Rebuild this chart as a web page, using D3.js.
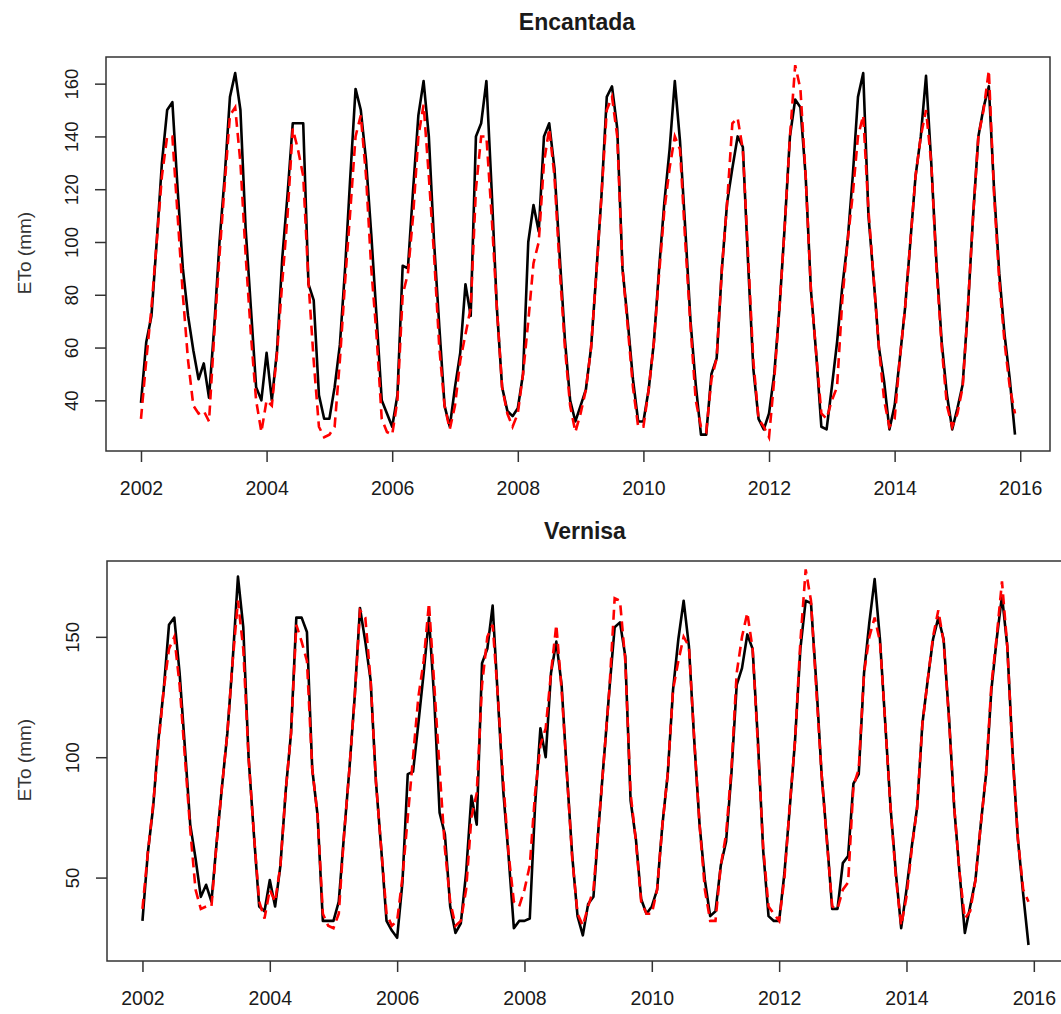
<!DOCTYPE html>
<html>
<head>
<meta charset="utf-8">
<script src="https://cdn.jsdelivr.net/npm/d3@7"></script>
<style>
  body { margin: 0; background: #fff; }
  svg { display: block; font-family: 'Liberation Sans', Arial, sans-serif; }
</style>
</head>
<body>
<svg id="chart" width="1061" height="1014"></svg>
<script>
const startYear = 2002;
const yearTicks = [2002, 2004, 2006, 2008, 2010, 2012, 2014, 2016];
const encantadaTicks = [40, 60, 80, 100, 120, 140, 160];
const vernisaTicks = [50, 100, 150];

// monthly ETo, one row per year (Jan..Dec)
const encantadaBlack = [
  39, 62, 72, 100, 130, 150, 153, 120, 90, 72, 59, 48,
  54, 41, 68, 100, 125, 155, 164, 150, 105, 75, 45, 40,
  58, 40, 59, 94, 118, 145, 145, 145, 84, 78, 42, 33,
  33, 45, 61, 90, 125, 158, 150, 131, 103, 72, 40, 35,
  30, 42, 91, 90, 120, 148, 161, 140, 100, 68, 38, 30,
  45, 58, 84, 72, 140, 145, 161, 120, 75, 45, 36, 34,
  37, 50, 100, 114, 104, 140, 145, 128, 95, 63, 40, 32,
  38, 44, 60, 88, 118, 155, 159, 143, 90, 70, 48, 32,
  32, 44, 62, 90, 115, 135, 161, 138, 105, 70, 46, 27,
  27, 50, 56, 90, 115, 128, 140, 136, 92, 52, 33, 29,
  35, 50, 75, 106, 140, 154, 151, 125, 82, 58, 30, 29,
  45, 62, 83, 100, 125, 155, 164, 110, 86, 60, 47, 29,
  38, 56, 75, 100, 125, 140, 163, 130, 92, 62, 42, 29,
  37, 46, 75, 110, 140, 151, 159, 120, 88, 65, 48, 27
];
const encantadaRed = [
  33, 55, 75, 100, 125, 140, 140, 110, 80, 55, 38, 35,
  36, 32, 65, 95, 122, 148, 151, 130, 95, 65, 40, 28,
  40, 38, 58, 85, 110, 143, 135, 125, 85, 55, 30, 26,
  27, 30, 55, 85, 112, 140, 148, 125, 90, 65, 33, 28,
  27, 40, 80, 88, 110, 140, 152, 125, 95, 60, 38, 29,
  38, 55, 65, 75, 120, 140, 140, 110, 75, 45, 35, 30,
  35, 50, 70, 92, 100, 130, 143, 125, 90, 60, 38, 28,
  35, 44, 60, 88, 118, 150, 155, 140, 90, 68, 45, 30,
  30, 44, 62, 88, 112, 128, 140, 135, 100, 68, 40, 30,
  28, 48, 56, 90, 115, 145, 147, 135, 95, 55, 33, 30,
  26, 48, 75, 106, 140, 167, 158, 125, 82, 58, 35, 33,
  40, 45, 78, 100, 118, 140, 148, 112, 86, 60, 40, 30,
  33, 56, 75, 100, 125, 140, 150, 130, 90, 60, 38, 30,
  35, 45, 75, 110, 140, 150, 165, 118, 85, 62, 45, 35
];
const vernisaBlack = [
  32, 60, 79, 107, 128, 155, 158, 135, 104, 72, 58, 42,
  47, 40, 65, 88, 110, 140, 175, 154, 100, 68, 38, 36,
  49, 38, 55, 86, 110, 158, 158, 152, 95, 76, 32, 32,
  32, 40, 68, 95, 125, 162, 148, 132, 90, 62, 32, 28,
  25, 48, 93, 94, 114, 135, 158, 124, 77, 68, 38, 27,
  31, 52, 84, 72, 139, 145, 163, 124, 86, 59, 29, 32,
  32, 33, 80, 112, 100, 135, 148, 130, 93, 59, 34, 26,
  39, 42, 72, 100, 128, 154, 156, 142, 82, 66, 41, 35,
  38, 45, 72, 93, 128, 149, 165, 146, 107, 72, 49, 34,
  36, 55, 65, 93, 130, 137, 151, 145, 107, 61, 34, 32,
  32, 52, 79, 107, 145, 165, 164, 131, 93, 66, 37, 37,
  56, 59, 89, 93, 135, 156, 174, 149, 114, 79, 52, 29,
  45, 63, 79, 114, 132, 149, 158, 149, 117, 79, 52, 27,
  38, 49, 72, 93, 128, 149, 167, 146, 102, 66, 43, 22
];
const vernisaRed = [
  37, 60, 80, 105, 128, 145, 150, 130, 100, 70, 45, 37,
  38, 38, 65, 88, 110, 140, 165, 145, 100, 68, 40, 33,
  45, 40, 55, 86, 110, 155, 148, 140, 95, 76, 35, 30,
  29, 35, 68, 95, 125, 161, 158, 132, 90, 62, 35, 30,
  32, 50, 75, 100, 125, 140, 164, 130, 95, 62, 40, 30,
  32, 45, 75, 85, 130, 150, 155, 125, 90, 60, 40, 38,
  45, 55, 85, 105, 112, 135, 155, 128, 93, 58, 35, 30,
  38, 45, 72, 100, 128, 166, 165, 140, 85, 65, 40, 35,
  35, 45, 72, 93, 128, 140, 150, 146, 107, 72, 45, 32,
  32, 55, 68, 95, 135, 150, 160, 145, 105, 62, 38, 35,
  32, 50, 80, 107, 148, 178, 165, 128, 93, 65, 38, 37,
  45, 48, 88, 95, 135, 150, 158, 148, 114, 79, 50, 30,
  42, 62, 79, 114, 132, 150, 161, 148, 116, 79, 52, 33,
  36, 49, 72, 93, 130, 150, 173, 146, 101, 66, 45, 40
];

const svg = d3.select('#chart');
const textColor = '#1a1a1a';
const axisColor = '#333';

function drawPanel(p) {
  const x = d3.scaleLinear().domain([2001.443, 2016.474]).range([p.left, p.right]);
  const y = d3.scaleLinear().domain(p.yDomain).range([p.bottom, p.top]);
  const g = svg.append('g');

  // title
  g.append('text')
    .attr('x', p.titleX)
    .attr('y', p.titleY)
    .attr('text-anchor', 'middle')
    .attr('font-size', 23)
    .attr('font-weight', 'bold')
    .attr('fill', textColor)
    .text(p.title);

  // y label
  g.append('text')
    .attr('transform', `translate(31,${p.labelY}) rotate(-90)`)
    .attr('text-anchor', 'middle')
    .attr('font-size', 19)
    .attr('fill', '#333')
    .text('ETo (mm)');

  // x axis
  const xAxis = g.append('g')
    .attr('transform', `translate(0,${p.bottom})`)
    .call(d3.axisBottom(x).tickValues(yearTicks).tickFormat(d3.format('d')).tickSize(11).tickPadding(19));
  xAxis.select('.domain').remove();
  xAxis.selectAll('line').attr('stroke', axisColor).attr('stroke-width', 1.5);
  xAxis.selectAll('text')
    .attr('font-size', 19.5)
    .attr('font-family', "'Liberation Sans', Arial, sans-serif")
    .attr('fill', textColor);

  // y axis, labels turned to run along the axis
  const yAxis = g.append('g')
    .attr('transform', `translate(${p.left},0)`)
    .call(d3.axisLeft(y).tickValues(p.yTicks).tickSize(11));
  yAxis.select('.domain').remove();
  yAxis.selectAll('line').attr('stroke', axisColor).attr('stroke-width', 1.5);
  yAxis.selectAll('text')
    .attr('font-size', 18.5)
    .attr('font-family', "'Liberation Sans', Arial, sans-serif")
    .attr('fill', textColor)
    .attr('text-anchor', 'middle')
    .attr('x', 0)
    .attr('y', 0)
    .attr('dy', 0)
    .attr('transform', 'translate(-28,0) rotate(-90)');

  const line = d3.line()
    .x((d, i) => x(startYear + i / 12))
    .y(d => y(d));

  const clipId = `clip-${p.title}`;
  g.append('clipPath').attr('id', clipId)
    .append('rect')
    .attr('x', p.left).attr('y', p.top)
    .attr('width', p.right - p.left).attr('height', p.bottom - p.top);

  const lines = g.append('g').attr('clip-path', `url(#${clipId})`);
  lines.append('path')
    .datum(p.black)
    .attr('d', line)
    .attr('fill', 'none')
    .attr('stroke', '#000')
    .attr('stroke-width', 2.6)
    .attr('stroke-linejoin', 'round');

  lines.append('path')
    .datum(p.red)
    .attr('d', line)
    .attr('fill', 'none')
    .attr('stroke', '#ff0000')
    .attr('stroke-width', 2.6)
    .attr('stroke-dasharray', '10,6');

  // box
  g.append('rect')
    .attr('x', p.left).attr('y', p.top)
    .attr('width', p.right - p.left).attr('height', p.bottom - p.top)
    .attr('fill', 'none')
    .attr('stroke', axisColor)
    .attr('stroke-width', 1.5);
}

drawPanel({
  title: 'Encantada',
  titleX: 577, titleY: 30, labelY: 253,
  black: encantadaBlack, red: encantadaRed,
  yTicks: encantadaTicks, yDomain: [20.8, 170.1],
  left: 106, right: 1050, top: 57, bottom: 451
});

drawPanel({
  title: 'Vernisa',
  titleX: 585, titleY: 539, labelY: 760,
  black: vernisaBlack, red: vernisaRed,
  yTicks: vernisaTicks, yDomain: [15.35, 181.5],
  left: 107, right: 1064, top: 561, bottom: 961
});
</script>
</body>
</html>
